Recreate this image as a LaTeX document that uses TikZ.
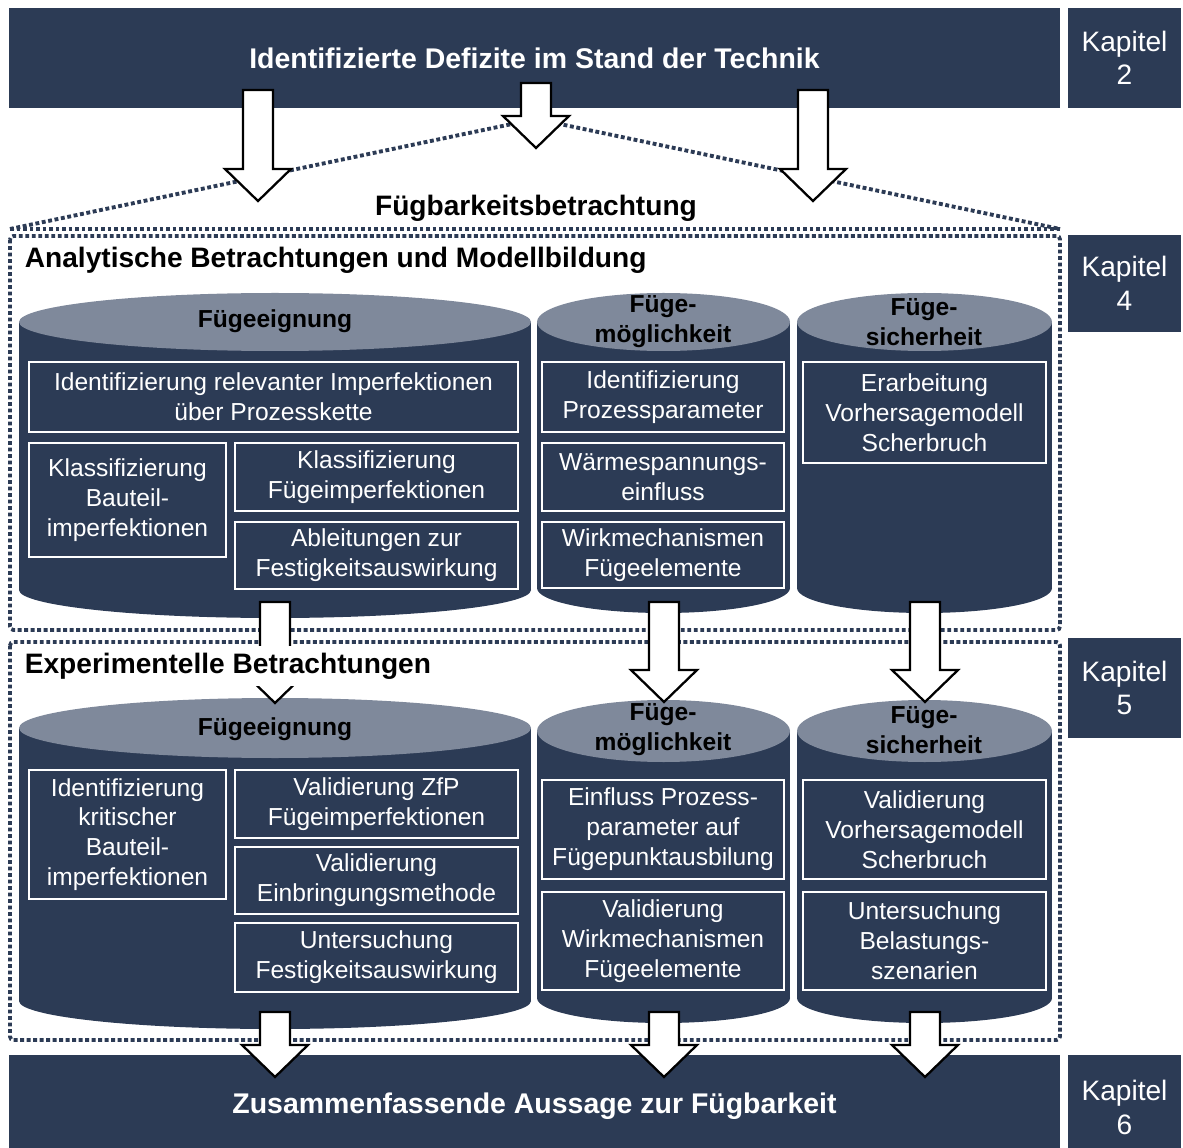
\documentclass[tikz,border=0pt]{standalone}
\usepackage{fontspec}
\setmainfont{Liberation Sans}
\usetikzlibrary{calc}
\definecolor{navy}{RGB}{44,59,85}
\definecolor{lid}{RGB}{127,137,155}
\newcommand\cyl[6]{%
  \fill[navy] (#1,#3) rectangle (#2,#4);
  \fill[navy] ({(#1+#2)/2},#4) ellipse [x radius={(#2-#1)/2*0.02cm}, y radius={#6*0.02cm}];
  \fill[lid] ({(#1+#2)/2},#3) ellipse [x radius={(#2-#1)/2*0.02cm}, y radius={#5*0.02cm}];
}
\newcommand\ibx[6]{%
  \node[ibox, minimum width={(#4-#2)*0.02cm}, minimum height={(#5-#3)*0.02cm}] (#1) at ({(#2+#4)/2},{(#3+#5)/2}) {#6};
}
\newcommand\rbx[6][]{%
  \node[#1, minimum width={(#4-#2)*0.02cm}, minimum height={(#5-#3)*0.02cm}] at ({(#2+#4)/2},{(#3+#5)/2}) #6;
}
\newcommand\barrow[2]{%
  \draw[barrowstyle] let \p1=#1, \p2=#2 in
    (\x1-0.3cm,\y1) -- (\x1+0.3cm,\y1) -- (\x1+0.3cm,\y2+0.64cm) -- (\x1+0.66cm,\y2+0.64cm)
    -- (\x2,\y2) -- (\x1-0.66cm,\y2+0.64cm) -- (\x1-0.3cm,\y2+0.64cm) -- cycle;
}
\begin{document}
\begin{tikzpicture}[x=0.02cm,y=-0.02cm,
  band/.style={fill=navy, draw=none, text=white, inner sep=0pt, font=\bfseries\fontsize{16.2}{19}\selectfont},
  kap/.style={fill=navy, draw=none, text=white, inner sep=0pt, align=center, font=\fontsize{16}{19}\selectfont},
  ibox/.style={draw=white, line width=1.1pt, text=white, align=center, inner sep=1pt, font=\fontsize{14}{17}\selectfont},
  head/.style={text=black, align=center, inner sep=0pt, font=\bfseries\fontsize{14}{17}\selectfont},
  frame/.style={draw=navy, line width=2.2pt, dash pattern=on 2.2pt off 1.5pt, rounded corners=2pt},
  dline/.style={draw=navy, line width=2.2pt, dash pattern=on 2.2pt off 1.5pt, line join=round},
  barrowstyle/.style={draw=black, fill=white, line width=1.3pt, line join=miter},
  title/.style={text=black, inner sep=2pt, font=\bfseries\fontsize{16}{19}\selectfont},
]
\useasboundingbox (0,0) rectangle (1183,1148);

% banners and chapter boxes
\rbx[band]{9}{8}{1060}{108}{(top) {Identifizierte Defizite im Stand der Technik}}
\rbx[kap]{1068}{8}{1181}{108}{(k2) {Kapitel\\2}}
\rbx[kap]{1068}{235}{1181}{332}{(k4) {Kapitel\\4}}
\rbx[kap]{1068}{638}{1181}{738}{(k5) {Kapitel\\5}}
\rbx[kap]{1068}{1055}{1181}{1160}{(k6) {Kapitel\\6}}
\rbx[band]{9}{1055}{1060}{1158}{(bot) {Zusammenfassende Aussage zur Fügbarkeit}}

% funnel and dotted frames
\coordinate (fl) at (10,229);
\coordinate (fm) at (536,119);
\coordinate (fr) at (1060,229);
\draw[dline] (fl) -- (fm) -- (fr);
\draw[dline] (fl) -- (fr);
\draw[frame] (10,236) rectangle (1060,630);
\draw[frame] (10,642) rectangle (1060,1040);

\node[title] (fb) at (536,208) {Fügbarkeitsbetrachtung};
\node[title, anchor=west] (ana) at (21,260) {Analytische Betrachtungen und Modellbildung};

% cylinders analytic
\cyl{19}{531}{322}{590}{29}{28}
\cyl{537}{790}{322}{588}{29}{25}
\cyl{797}{1052}{322}{588}{29}{25}
\node[head] (h1) at (275,321) {Fügeeignung};
\node[head] (h2) at (663,322) {Füge-\\möglichkeit};
\node[head] (h3) at (924,322) {Füge-\\sicherheit};

\ibx{a11}{29}{362}{518}{432}{Identifizierung relevanter Imperfektionen\\über Prozesskette}
\ibx{a12}{29}{443}{226}{557}{Klassifizierung\\Bauteil-\\imperfektionen}
\ibx{a13}{235}{443}{518}{511}{Klassifizierung\\Fügeimperfektionen}
\ibx{a14}{235}{522}{518}{589}{Ableitungen zur\\Festigkeitsauswirkung}
\ibx{b11}{542}{362}{784}{432}{Identifizierung\\Prozessparameter}
\ibx{b12}{542}{443}{784}{511}{Wärmespannungs-\\einfluss}
\ibx{b13}{542}{522}{784}{588}{Wirkmechanismen\\Fügeelemente}
\ibx{c11}{803}{362}{1046}{463}{Erarbeitung\\Vorhersagemodell\\Scherbruch}

% cylinders experimental
\cyl{19}{531}{728}{1001}{30}{28}
\cyl{537}{790}{731}{998}{31}{25}
\cyl{797}{1052}{731}{998}{31}{25}
\node[head] (g1) at (275,729) {Fügeeignung};
\node[head] (g2) at (663,730) {Füge-\\möglichkeit};
\node[head] (g3) at (924,730) {Füge-\\sicherheit};

\ibx{a21}{29}{770}{226}{899}{Identifizierung\\kritischer\\Bauteil-\\imperfektionen}
\ibx{a22}{235}{770}{518}{838}{Validierung ZfP\\Fügeimperfektionen}
\ibx{a23}{235}{847}{518}{914}{Validierung\\Einbringungsmethode}
\ibx{a24}{235}{923}{518}{992}{Untersuchung\\Festigkeitsauswirkung}
\ibx{b21}{542}{780}{784}{879}{Einfluss Prozess-\\parameter auf\\Fügepunktausbilung}
\ibx{b22}{542}{892}{784}{990}{Validierung\\Wirkmechanismen\\Fügeelemente}
\ibx{c21}{803}{780}{1046}{879}{Validierung\\Vorhersagemodell\\Scherbruch}
\ibx{c22}{803}{892}{1046}{990}{Untersuchung\\Belastungs-\\szenarien}

% arrows
\coordinate (t1s) at (258,90);  \coordinate (t1e) at (258,201);
\coordinate (t2s) at (536,83);  \coordinate (t2e) at (536,148);
\coordinate (t3s) at (813,90);  \coordinate (t3e) at (813,201);
\coordinate (m1s) at (275,602); \coordinate (m1e) at (275,703);
\coordinate (m2s) at (664,602); \coordinate (m2e) at (664,702);
\coordinate (m3s) at (925,602); \coordinate (m3e) at (925,702);
\coordinate (b1s) at (275,1012); \coordinate (b1e) at (275,1077);
\coordinate (b2s) at (664,1012); \coordinate (b2e) at (664,1077);
\coordinate (b3s) at (925,1012); \coordinate (b3e) at (925,1077);
\barrow{(t1s)}{(t1e)}
\barrow{(t2s)}{(t2e)}
\barrow{(t3s)}{(t3e)}
\barrow{(m1s)}{(m1e)}
\barrow{(m2s)}{(m2e)}
\barrow{(m3s)}{(m3e)}
\barrow{(b1s)}{(b1e)}
\barrow{(b2s)}{(b2e)}
\barrow{(b3s)}{(b3e)}

\node[title, anchor=west, fill=white, inner ysep=4pt] (exp) at (21,666) {Experimentelle Betrachtungen};
\end{tikzpicture}
\end{document}
